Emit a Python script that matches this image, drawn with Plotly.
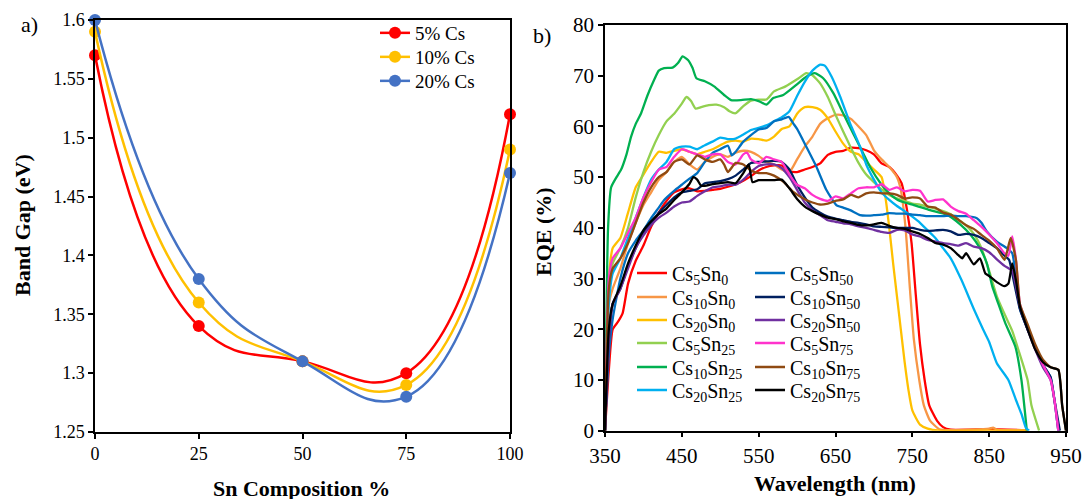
import plotly.graph_objects as go

W, H = 1086, 499

# ---------------- Panel a data ----------------
sn_comp = [0, 25, 50, 75, 100]
bg_5cs = [1.57, 1.34, 1.31, 1.30, 1.52]
bg_10cs = [1.59, 1.36, 1.31, 1.29, 1.49]
bg_20cs = [1.60, 1.38, 1.31, 1.28, 1.47]
a_names = ["5% Cs", "10% Cs", "20% Cs"]
a_colors = ["#FF0000", "#FFC000", "#4472C4"]
a_yticks = [1.25, 1.3, 1.35, 1.4, 1.45, 1.5, 1.55, 1.6]
a_yticktext = ["1.25", "1.3", "1.35", "1.4", "1.45", "1.5", "1.55", "1.6"]
a_xticks = [0, 25, 50, 75, 100]

# ---------------- Panel b data ----------------
wl_cs5sn0 = [350,355,360,367,373,380,390,400,410,420,430,440,450,460,470,480,490,500,510,520,530,540,550,560,570,580,590,600,610,620,630,640,650,660,670,680,690,700,710,720,730,736,743,749,754,760,766,772,782,790,800,850,900]
eqe_cs5sn0 = [0,12,20,21.5,23.2,29,33.5,36.5,40.2,43,45.3,47,47.6,47.8,47.2,47.3,47.5,47.7,48.1,48.6,49.3,50.2,51.3,52,52.3,52.3,51.2,51,51.5,52,52.7,54.4,55,55.2,55.8,55.7,55.3,54.5,52.7,52,50.3,48.8,43.6,37,27.7,17,10,5,2,0.7,0.2,0.3,0.1]

wl_cs10sn0 = [350,355,360,370,380,390,400,410,420,430,440,450,460,470,480,490,500,510,520,530,540,550,560,570,580,590,600,610,620,630,640,650,660,670,680,690,700,710,720,730,735,741,747,752,759,765,773,785,800,850,855,860,900]
eqe_cs10sn0 = [0,25,28,32,37,41,44.5,47,49.5,51,53,54,52.5,51.5,53,54,54.5,54,54.8,55.2,55,54.2,53,52.5,51.5,51,53.5,56,58,60.5,61.6,62.3,62.2,61.5,60,58.3,55.3,53.5,52,50,47.5,40.3,27.7,18,10,5,2,0.3,0.1,0.4,0.6,0.2,0.1]

wl_cs20sn0 = [350,355,360,370,380,390,400,410,420,430,440,450,460,470,480,490,500,510,520,530,540,550,560,570,580,590,600,605,610,620,630,640,650,660,670,680,690,700,710,715,720,725,730,735,740,745,750,760,770,785,850,900]
eqe_cs20sn0 = [0,30,36,38,43,48,50.5,53,55,54.8,55.2,55.5,55,54.5,55,55.5,56.3,57,57.2,57,57.6,57.5,57.2,58,59.5,60,62.5,63.3,63.8,63.8,63.3,61.6,59,56.6,55,54.5,53,51.5,50,46,40,33,26.5,20,13.5,8,4,1.2,0.4,0,0,0]

wl_cs5sn25 = [350,355,360,370,380,390,400,410,420,430,440,450,456,462,468,475,485,495,505,512,520,530,540,550,560,570,585,600,612,620,630,640,650,660,670,680,690,700,710,720,730,740,750,760,770,780,790,800,810,820,830,840,850,860,870,880,890,900,905,915]
eqe_cs5sn25 = [0,28,33,36,40,46,51,55,58.3,61,62.5,64.5,65.8,65,63.5,63.8,64.2,64.3,63.8,63,62.6,64,65.1,65.3,65.3,66.9,67.9,69.3,70.5,70.1,68.5,65.8,62.3,59,55.8,52.8,50.5,49,47.6,46.5,45.8,45.3,44.8,44.6,44.2,43.8,43.3,42.7,41.6,40.5,38.8,36,31.5,26.5,23,19.7,15,10,5,0]

wl_cs10sn25 = [350,354,358,365,371,378,384,390,397,405,414,420,427,438,445,451,458,464,469,480,492,505,514,527,540,550,560,569,582,599,612,623,634,647,660,673,686,695,710,720,730,740,752,773,795,813,826,838,847,854,862,871,884,892,899]
eqe_cs10sn25 = [0,40,48,50,51.5,54.5,58,60.5,62.6,66,69.2,71,71.5,71.6,72.5,73.8,73.1,71.5,69.5,68.9,67.9,66.2,65.2,65.2,65.4,65,64.3,65.6,66.2,68.2,69.8,70.5,69.5,66.6,62.6,58.6,54.7,52,48.5,46.8,45.6,45,44.5,43.5,42.6,40.6,38.6,36,33,28.5,25,21.2,16.6,10,0]

wl_cs20sn25 = [350,355,360,370,380,390,400,410,420,430,440,450,460,470,480,490,500,510,520,530,540,550,560,570,580,590,600,610,620,630,636,645,656,669,682,690,700,710,720,730,740,750,760,770,780,790,800,814,830,842,850,860,875,885,892,898,902]
eqe_cs20sn25 = [0,25,31,34,38,42,46,49.5,51.5,53,55.5,56,56,55.5,56.3,57,57.8,57.5,57.6,58.4,59.3,59.7,60.2,61,61.8,63,66,68.8,71,72.2,72,69.8,65.9,60.6,56,52.5,49.5,47,45.5,44.3,43.3,42.2,41,39.5,38,36,34,29.7,24,20,17.5,13.3,10,6,3.3,0.5,0]

wl_cs5sn50 = [350,355,360,370,380,390,400,410,420,427,440,450,460,470,480,490,500,510,515,520,530,540,550,560,570,580,589,595,600,612,625,638,651,660,669,682,690,700,710,720,730,740,750,760,770,780,790,800,810,820,834,840,847,860,873,880,885,890,900,910,920,930,935,940]
eqe_cs5sn50 = [0,15,22,30,35,37.5,39.5,41.9,44,45.5,47.3,48.5,49.7,50.8,53,54.8,55.5,56.2,54.3,55,57,58.3,59.4,59.7,61,61.4,61.9,60.6,59.5,56,52.1,47.5,44.5,44,43.5,42.5,42.4,42.5,42.6,42.9,42.8,42.8,42.6,42.5,42.3,42.3,42.3,42.4,42.3,42.3,41.9,41,39.3,37.3,36,35,30,24,20,16.5,13,10.5,6,0]

wl_cs10sn50 = [350,355,360,370,380,390,400,410,420,430,440,450,460,470,480,490,500,510,520,530,540,550,560,570,580,590,600,610,620,630,640,650,660,670,680,690,700,710,720,730,740,750,760,770,780,790,800,810,820,830,840,850,860,870,876,880,890,900,910,920,930,935,942]
eqe_cs10sn50 = [0,18,25,28,32.5,36,39,41,43,44.5,46,47,47.3,47.6,48.8,49,49.2,49.6,50.3,51.5,52.8,53,53.1,53.2,53,51.5,48.5,46,44,43,42.2,41.8,41.5,41.2,41,40.7,40.3,40.2,40.1,40,40,40,39.6,39.4,39.5,39.6,39.3,38.6,38.8,38.6,38,37,36,34.5,33.7,31,24,20,16.5,13,10.5,6,0]

wl_cs20sn50 = [350,355,360,370,380,390,400,410,420,430,440,450,460,470,480,490,500,510,520,530,540,550,560,570,580,590,600,610,620,630,640,650,660,670,680,690,700,710,720,730,740,750,760,770,780,790,800,810,820,830,840,850,860,870,880,890,900,910,920,930,935,940]
eqe_cs20sn50 = [0,18,25,28,32,36,38.5,40.5,42,43,44.2,45,45.2,46.3,47.2,48,48.2,48.5,48.5,49.5,51,52.2,52.5,52.5,51.8,50,47.5,45,43.5,42.5,41.5,41.2,40.9,40.7,40.3,40,39.6,39.2,39,39.6,39.5,38.7,38.3,37.6,37.3,37,36.8,36.5,37,36.3,36,35.2,33.8,32.5,31.5,24.5,20,16,12.5,10,6,0]

wl_cs5sn75 = [350,355,360,370,380,390,400,410,420,430,440,450,460,470,480,490,500,510,520,530,535,540,550,560,570,580,590,600,610,620,630,640,650,660,670,680,690,700,710,720,730,740,750,760,770,780,790,800,810,820,830,840,850,860,870,875,880,885,890,900,910,920,930,935,940]
eqe_cs5sn75 = [0,30,34,36,39,42,46,49,51.5,52,54,55.5,55,54.5,54,54.5,54.5,53,52.5,54.5,54.8,53.5,52.7,54,53.5,53,50.5,48.5,47.8,46.5,45.7,45.3,46.2,45.8,46.8,47.8,48,48,48.6,47.5,48,47.2,47.5,47.3,45.2,45.5,45.6,44.2,43.3,42.8,41.5,40.2,38.7,37,35,34.5,38.3,33.5,25,20.5,16.5,13,10,6,0]

wl_cs10sn75 = [350,355,360,370,380,390,400,410,420,430,440,450,460,470,480,490,500,505,510,520,530,540,550,560,570,582,595,612,620,630,640,650,660,670,680,690,700,710,720,730,740,750,760,770,780,790,800,810,820,830,840,850,860,870,878,885,890,900,910,920,930,940,945,950]
eqe_cs10sn75 = [0,28,32,34,37,41,45,48,50,51,53,53.5,52.5,54.3,53.5,53,53.5,52.5,51,52.8,52.5,51.3,50.8,50.8,50.3,49.1,47.1,45.5,45,44.6,44.8,45.3,45.6,46.5,46,46.8,47,46.8,46.8,46.5,45.8,46,45.8,44.2,44,43,42.6,41.6,40.5,39.8,38.6,37.5,36,33.7,38,33.5,25,21,17,14,12.5,12,5,0]

wl_cs20sn75 = [350,355,360,370,380,390,400,410,420,430,440,450,460,465,470,475,480,490,500,510,520,530,537,542,550,560,570,580,590,600,610,620,630,640,650,660,670,680,690,700,710,720,730,740,750,760,770,780,790,800,810,815,820,830,838,845,850,860,870,875,880,885,890,900,910,920,930,940,945,950]
eqe_cs20sn75 = [0,20,25,28.5,33,36.5,39.5,41.3,42.7,43.8,45.5,47,48.7,50,49.5,48.3,48.3,48.6,48.8,49,48.8,50.8,52.5,49,49.4,49.4,49.4,49.5,47.8,45.7,44.2,43.3,42.6,42,41.7,41.3,41,40.6,40.5,40.7,41,40.4,40,39.8,39.3,38.8,38,37,36.7,36,34.6,34,35,32.8,34,31,30.5,29.3,28.5,29,33,29.5,24.5,20,16,13.5,12.5,12,5,0]

b_series = [
    ("Cs<sub>5</sub>Sn<sub>0</sub>", wl_cs5sn0, eqe_cs5sn0, "#FF0000"),
    ("Cs<sub>10</sub>Sn<sub>0</sub>", wl_cs10sn0, eqe_cs10sn0, "#F79646"),
    ("Cs<sub>20</sub>Sn<sub>0</sub>", wl_cs20sn0, eqe_cs20sn0, "#FFC000"),
    ("Cs<sub>5</sub>Sn<sub>25</sub>", wl_cs5sn25, eqe_cs5sn25, "#92D050"),
    ("Cs<sub>10</sub>Sn<sub>25</sub>", wl_cs10sn25, eqe_cs10sn25, "#00B050"),
    ("Cs<sub>20</sub>Sn<sub>25</sub>", wl_cs20sn25, eqe_cs20sn25, "#00B0F0"),
    ("Cs<sub>5</sub>Sn<sub>50</sub>", wl_cs5sn50, eqe_cs5sn50, "#0070C0"),
    ("Cs<sub>10</sub>Sn<sub>50</sub>", wl_cs10sn50, eqe_cs10sn50, "#002060"),
    ("Cs<sub>20</sub>Sn<sub>50</sub>", wl_cs20sn50, eqe_cs20sn50, "#7030A0"),
    ("Cs<sub>5</sub>Sn<sub>75</sub>", wl_cs5sn75, eqe_cs5sn75, "#FF33CC"),
    ("Cs<sub>10</sub>Sn<sub>75</sub>", wl_cs10sn75, eqe_cs10sn75, "#8F4A12"),
    ("Cs<sub>20</sub>Sn<sub>75</sub>", wl_cs20sn75, eqe_cs20sn75, "#000000"),
]
b_xticks = [350, 450, 550, 650, 750, 850, 950]
b_yticks = [0, 10, 20, 30, 40, 50, 60, 70, 80]

SERIF = "Liberation Serif"

fig = go.Figure()

# panel a traces, each with its own one-item legend
a_legend_rows = [33, 57, 81]
for i, (ys, nm, col) in enumerate(zip([bg_5cs, bg_10cs, bg_20cs], a_names, a_colors)):
    lg = "legend" if i == 0 else f"legend{i+1}"
    fig.add_trace(go.Scatter(
        x=sn_comp, y=ys, name=nm, mode="lines+markers",
        line=dict(color=col, width=2.5, shape="spline", smoothing=1.3),
        marker=dict(color=col, size=12),
        cliponaxis=False, xaxis="x", yaxis="y", legend=lg))

# panel b traces
b_rows = [273, 297, 320, 343, 367, 390]
for j, (nm, wl, eq, col) in enumerate(b_series):
    lg = f"legend{j+4}"
    fig.add_trace(go.Scatter(
        x=wl, y=eq, name=nm, mode="lines",
        line=dict(color=col, width=2.3, shape="spline", smoothing=0.5),
        xaxis="x2", yaxis="y2", legend=lg))

axis_common = dict(showline=True, mirror=True, linecolor="black", linewidth=1.5,
                   ticks="outside", ticklen=5, tickwidth=1.5, tickcolor="black",
                   showgrid=False, zeroline=False, automargin=False)

layout = dict(
    width=W, height=H, margin=dict(l=0, r=0, t=0, b=0, pad=0, autoexpand=False),
    paper_bgcolor="white", plot_bgcolor="white",
    font=dict(family=SERIF, color="black"),
    xaxis=dict(domain=[95 / W, 510 / W], range=[0, 100], tickvals=a_xticks,
               tickfont=dict(size=18, family=SERIF), anchor="y", **axis_common),
    yaxis=dict(domain=[1 - 432 / H, 1 - 20 / H], range=[1.25, 1.6], tickvals=a_yticks,
               ticktext=a_yticktext, tickfont=dict(size=18, family=SERIF), anchor="x", **axis_common),
    xaxis2=dict(domain=[605 / W, 1066 / W], range=[350, 950], tickvals=b_xticks,
                tickfont=dict(size=21, family=SERIF), anchor="y2", **axis_common),
    yaxis2=dict(domain=[1 - 430.7 / H, 1 - 25 / H], range=[0, 80], tickvals=b_yticks,
                tickfont=dict(size=21, family=SERIF), anchor="x2", **axis_common),
    showlegend=True,
)

def leg(xpx, ypx, size):
    return dict(x=xpx / W, y=1 - ypx / H, xanchor="left", yanchor="middle",
                bgcolor="rgba(0,0,0,0)", borderwidth=0,
                font=dict(family=SERIF, size=size, color="black"), itemwidth=30)

for i, ry in enumerate(a_legend_rows):
    key = "legend" if i == 0 else f"legend{i+1}"
    layout[key] = leg(417 - 42, ry, 19)
for j in range(12):
    col, row = divmod(j, 6)
    tx = 674 if col == 0 else 792
    layout[f"legend{j+4}"] = leg(tx - 42, b_rows[row], 20)

ann = []
def text(t, xpx, ypx, size, bold=False, angle=0):
    ann.append(dict(text=f"<b>{t}</b>" if bold else t, x=xpx / W, y=1 - ypx / H,
                    xref="paper", yref="paper", showarrow=False, textangle=angle,
                    xanchor="center", yanchor="middle",
                    font=dict(family=SERIF, size=size, color="black")))

text("a)", 29, 24, 22)
text("b)", 542, 36, 22)
text("Band Gap (eV)", 22, 225, 22, bold=True, angle=-90)
text("Sn Composition %", 301, 488, 22, bold=True)
text("EQE (%)", 543, 232, 22, bold=True, angle=-90)
text("Wavelength (nm)", 835, 483, 22, bold=True)
layout["annotations"] = ann

fig.update_layout(**layout)
fig.write_html("out.html")
